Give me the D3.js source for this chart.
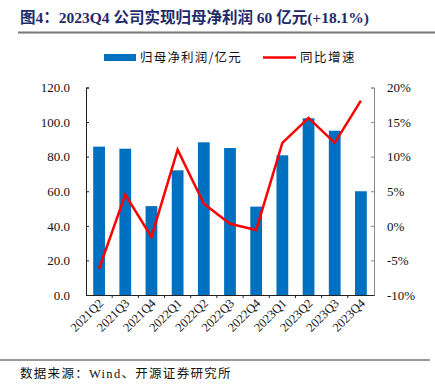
<!DOCTYPE html>
<html>
<head>
<meta charset="utf-8">
<script src="https://cdn.jsdelivr.net/npm/d3@7"></script>
<style>
  body { margin: 0; background: #fff; }
  svg { display: block; }
  .serif { font-family: "Liberation Serif", "Times New Roman", serif; }
</style>
</head>
<body>
<svg id="chart" width="435" height="385"></svg>
<script>
const quarters = ["2021Q2", "2021Q3", "2021Q4", "2022Q1", "2022Q2", "2022Q3", "2022Q4", "2023Q1", "2023Q2", "2023Q3", "2023Q4"]
const profit = [85.8, 84.6, 51.4, 72.1, 88.3, 85.0, 51.1, 80.8, 102.2, 95.0, 60.0]
const growth = [-6.2, 4.5, -1.6, 11.0, 3.2, 0.3, -0.6, 12.0, 15.6, 12.0, 18.1]
const leftTicks = [0, 20, 40, 60, 80, 100, 120]
const rightTicks = [-10, -5, 0, 5, 10, 15, 20]

const svg = d3.select("#chart")
const cjk = "'Noto Sans CJK SC', sans-serif"

const plotLeft = 86
const plotRight = 374
const plotTop = 87.5
const plotBottom = 295

const x = d3.scaleBand().domain(quarters).range([plotLeft, plotRight]).paddingInner(0.55).paddingOuter(0.275)
const xPos = d3.scaleBand().domain(quarters).range([plotLeft, plotRight])
const y = d3.scaleLinear([0, 120], [plotBottom, plotTop])
const y2 = d3.scaleLinear([-10, 20], [plotBottom, plotTop])

// title
svg.append("text")
  .attr("x", 20)
  .attr("y", 23)
  .attr("fill", "#1f2a6b")
  .attr("font-weight", "bold")
  .attr("font-size", 15.5)
  .attr("font-family", "'Liberation Serif', " + cjk)
  .text("图4：2023Q4 公司实现归母净利润 60 亿元(+18.1%)")

svg.append("line")
  .attr("x1", 18).attr("x2", 435)
  .attr("y1", 32.5).attr("y2", 32.5)
  .attr("stroke", "#777").attr("stroke-width", 2)

// legend
const legend = svg.append("g")
legend.append("rect").attr("x", 104).attr("y", 54).attr("width", 32).attr("height", 7).attr("fill", "#0070c0")
legend.append("text").attr("x", 140).attr("y", 62).attr("font-size", 12.5).attr("letter-spacing", 1.2).attr("font-family", cjk).attr("fill", "#111").text("归母净利润/亿元")
legend.append("line").attr("x1", 263).attr("x2", 296).attr("y1", 57.5).attr("y2", 57.5).attr("stroke", "#ff0000").attr("stroke-width", 2.5)
legend.append("text").attr("x", 300).attr("y", 62).attr("font-size", 12.5).attr("letter-spacing", 1.5).attr("font-family", cjk).attr("fill", "#111").text("同比增速")

// bars
svg.append("g")
  .selectAll("rect.bar")
  .data(profit)
  .join("rect")
  .classed("bar", true)
  .attr("x", (d, i) => x(quarters[i]))
  .attr("width", x.bandwidth())
  .attr("y", (d) => y(d))
  .attr("height", (d) => y(0) - y(d))
  .attr("fill", "#0070c0")

// left axis
const leftAxis = svg.append("g")
  .attr("transform", `translate(${plotLeft},0)`)
  .call(d3.axisLeft(y).tickValues(leftTicks).tickSize(-3).tickPadding(16).tickFormat(d3.format(".1f")))
leftAxis.select(".domain").attr("stroke", "#222")
leftAxis.selectAll(".tick line").attr("stroke", "#222")
leftAxis.selectAll("text").attr("class", "serif").attr("font-size", 13).attr("fill", "#111")

// right axis
const rightAxis = svg.append("g")
  .attr("transform", `translate(${plotRight},0)`)
  .call(d3.axisRight(y2).tickValues(rightTicks).tickSize(-3).tickPadding(13).tickFormat((d) => d + "%"))
rightAxis.select(".domain").attr("stroke", "#888")
rightAxis.selectAll(".tick line").attr("stroke", "#888")
rightAxis.selectAll("text").attr("class", "serif").attr("font-size", 13).attr("fill", "#111")

// bottom axis
const bottomAxis = svg.append("g")
  .attr("transform", `translate(0,${plotBottom})`)
  .call(d3.axisBottom(xPos).tickSize(0).tickFormat(""))
bottomAxis.select(".domain").attr("stroke", "#222")
bottomAxis.selectAll("line.sep")
  .data(quarters.slice(1))
  .join("line")
  .classed("sep", true)
  .attr("x1", (d) => xPos(d)).attr("x2", (d) => xPos(d))
  .attr("y1", 0).attr("y2", 3)
  .attr("stroke", "#222")

svg.append("g")
  .selectAll("text.xlab")
  .data(quarters)
  .join("text")
  .classed("xlab serif", true)
  .attr("transform", (d) => `translate(${xPos(d) + xPos.bandwidth() / 2 + 5},${plotBottom + 9}) rotate(-45)`)
  .attr("text-anchor", "end")
  .attr("font-size", 12.5)
  .attr("fill", "#111")
  .text((d) => d)

// growth line
const line = d3.line()
  .x((d, i) => xPos(quarters[i]) + xPos.bandwidth() / 2)
  .y((d) => y2(d))

svg.append("path")
  .datum(growth)
  .attr("d", line)
  .attr("fill", "none")
  .attr("stroke", "#ff0000")
  .attr("stroke-width", 2.5)
  .attr("stroke-linejoin", "miter")

// footer
svg.append("line")
  .attr("x1", 0).attr("x2", 430)
  .attr("y1", 360).attr("y2", 360)
  .attr("stroke", "#333").attr("stroke-width", 1)

svg.append("text")
  .attr("x", 20)
  .attr("y", 378)
  .attr("font-size", 12.5)
  .attr("letter-spacing", 1.3)
  .attr("font-family", "'Liberation Serif', " + cjk)
  .attr("fill", "#111")
  .text("数据来源：Wind、开源证券研究所")
</script>
</body>
</html>
